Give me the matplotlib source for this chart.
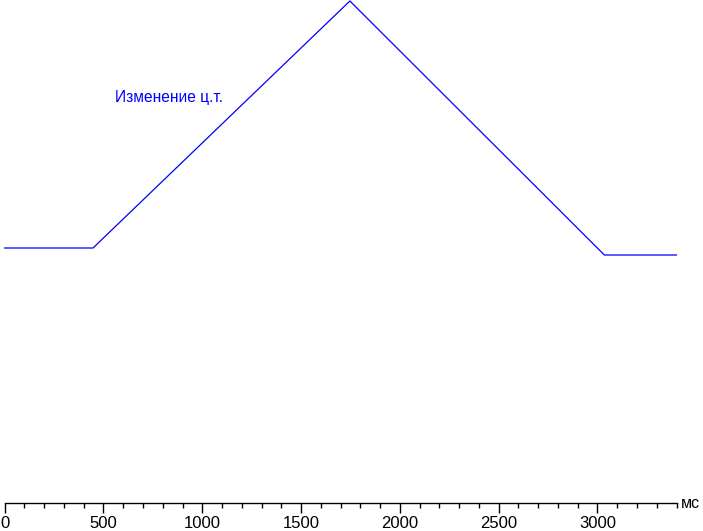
import matplotlib
matplotlib.use("Agg")
import matplotlib.pyplot as plt
from matplotlib.ticker import MultipleLocator

# data (ms, arbitrary units of colour-temperature change)
time_ms = [0, 447, 1747, 3035, 3400]
level = [255, 255, 502, 248, 248]
x_ticks = [0, 500, 1000, 1500, 2000, 2500, 3000]
x_ticklabels = ["0", "500", "1000", "1500", "2000", "2500", "3000"]
label_text = "Изменение ц.т."
unit_text = "мс"

W, H = 703, 531
fig = plt.figure(figsize=(W / 100, H / 100), dpi=100)
left = 4.7 / W
right = 676.5 / W
bottom = (H - 503) / H
ax = fig.add_axes([left, bottom, right - left, 503 / H])
ax.set_xlim(0, 3400)
ax.set_ylim(0, 503)

ax.plot(time_ms, level, color="#0000ff", lw=0.9, clip_on=False)

for s in ["top", "left", "right"]:
    ax.spines[s].set_visible(False)
ax.spines["bottom"].set_linewidth(1.0)
ax.set_yticks([])
ax.set_xticks(x_ticks)
ax.set_xticklabels(x_ticklabels, fontsize=12, family="Liberation Sans")
ax.xaxis.set_minor_locator(MultipleLocator(100))
ax.tick_params(axis="x", which="major", length=7.2, width=1.0, direction="out", pad=2.0)
ax.tick_params(axis="x", which="minor", length=3.6, width=1.0, direction="out")

ax.text(1.007, 0.0, unit_text, transform=ax.transAxes, fontsize=11.5,
        family="Liberation Sans", ha="left", va="center")
ax.text(560, 406, label_text, color="#0000ff", fontsize=11.2,
        family="Liberation Sans", ha="left", va="center")

fig.savefig("out.png", dpi=100)
